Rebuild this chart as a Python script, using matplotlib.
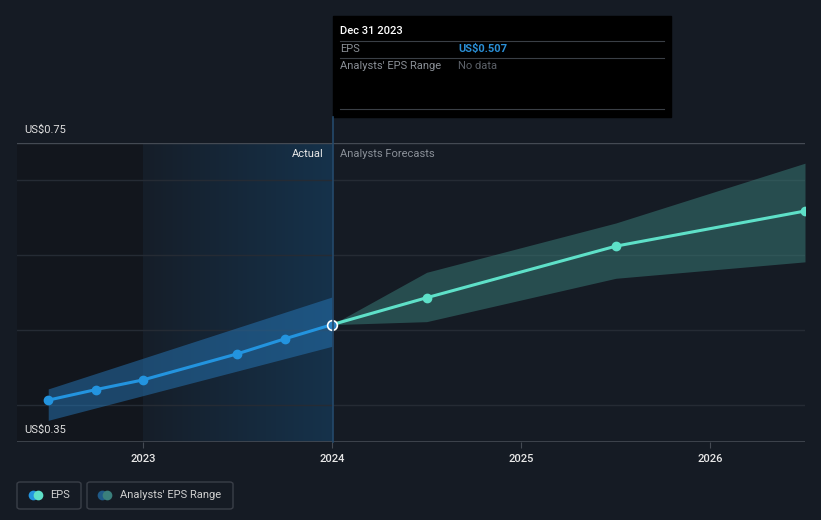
import numpy as np
import matplotlib.pyplot as plt
from matplotlib.colors import LinearSegmentedColormap
from matplotlib.patches import FancyBboxPatch, Rectangle
from matplotlib.lines import Line2D

plt.rcParams['font.family'] = ['Roboto', 'DejaVu Sans']

# EPS history (decimal years) and analyst forecasts
actual_x = [2022.5, 2022.75, 2023.0, 2023.5, 2023.75, 2024.0]
actual_eps = [0.406, 0.420, 0.433, 0.468, 0.488, 0.507]
actual_band_x = [2022.5, 2024.0]
actual_band_lo = [0.379, 0.478]
actual_band_hi = [0.421, 0.544]

fc_x = [2024.0, 2024.5, 2025.5, 2026.5]
fc_eps = [0.507, 0.543, 0.612, 0.659]
fc_lo = [0.507, 0.511, 0.569, 0.591]
fc_hi = [0.507, 0.577, 0.643, 0.723]

years = [2023, 2024, 2025, 2026]
y_labels = ["US$0.35", "US$0.75"]

BG = "#151b24"
BLUE = "#2394df"
TEAL = "#5ee0c8"

W, H = 821, 520
fig = plt.figure(figsize=(W / 100, H / 100), dpi=100, facecolor=BG)
ax = fig.add_axes([17 / W, (H - 442) / H, (805 - 17) / W, (442 - 143) / H])
ax.set_facecolor(BG)
x0, x1 = 2022.335, 2026.5
ax.set_xlim(x0, x1)
ax.set_ylim(0.35, 0.75)

# past region + last-year highlight
ax.add_patch(Rectangle((x0, 0.35), 2023 - x0, 0.4, color="#12161d", zorder=0))
grad = LinearSegmentedColormap.from_list("g", ["#151e29", "#16324b"])
ax.imshow(np.linspace(0, 1, 100).reshape(1, -1), cmap=grad, aspect="auto",
          extent=[2023, 2024, 0.35, 0.75], zorder=0.5)

for v in [0.4, 0.5, 0.6, 0.7]:
    ax.axhline(v, color="#252b34", lw=1, zorder=1)
ax.axhline(0.75, color="#444a53", lw=1, zorder=1)
ax.axhline(0.35, color="#444a53", lw=1.2, zorder=1)

# bands
ax.fill_between(actual_band_x, actual_band_lo, actual_band_hi, color="#2677b8", alpha=0.5, lw=0, zorder=2)
ax.fill_between(fc_x, fc_lo, fc_hi, color="#3a7f7a", alpha=0.5, lw=0, zorder=2)

# lines
ax.plot(actual_x, actual_eps, color=BLUE, lw=2.2, zorder=3)
ax.plot(actual_x[:-1], actual_eps[:-1], "o", color=BLUE, ms=6, zorder=4)
ax.plot(fc_x, fc_eps, color=TEAL, lw=2.2, zorder=3)
ax.plot(fc_x[1:], fc_eps[1:], "o", color=TEAL, ms=6, zorder=4)
ax.plot(actual_x[-1], actual_eps[-1], "o", color="#2a7fc0", mec="white", mew=1.2, ms=7, zorder=5)

for s in ax.spines.values():
    s.set_visible(False)
ax.set_yticks([])
ax.set_xticks(years)
ax.set_xticklabels([str(y) for y in years], color="#e8e8e8", fontsize=8, fontweight="medium")
ax.tick_params(axis="x", length=4, color="#444a53", pad=5)

# hover line
fig.add_artist(Line2D([333 / W, 333 / W], [(H - 442) / H, (H - 117) / H], color="#24496b", lw=1.2))

fig.text(24 / W, (H - 130) / H, y_labels[1], color="#e0e0e0", fontsize=8, va="center")
fig.text(24 / W, (H - 430) / H, y_labels[0], color="#e0e0e0", fontsize=8, va="center")
fig.text(324 / W, (H - 154) / H, "Actual", color="#e8e8e8", fontsize=8, ha="right", va="center")
fig.text(340 / W, (H - 154) / H, "Analysts Forecasts", color="#8a9098", fontsize=8, va="center")

# tooltip
fig.add_artist(Rectangle((333 / W, (H - 117) / H), (671 - 333) / W, (117 - 16) / H, color="black",
                         transform=fig.transFigure))
fig.text(340 / W, (H - 31) / H, "Dec 31 2023", color="white", fontsize=8, va="center", fontweight="medium")
for yy in [41, 58, 109]:
    fig.add_artist(Line2D([340 / W, 664 / W], [(H - yy) / H] * 2, color="#3a3f46", lw=0.8))
fig.text(340 / W, (H - 49) / H, "EPS", color="#8a8f96", fontsize=8, va="center")
fig.text(458 / W, (H - 49) / H, "US$0.507", color="#2a8fd6", fontsize=8, va="center", fontweight="bold")
fig.text(340 / W, (H - 66) / H, "Analysts' EPS Range", color="#8a8f96", fontsize=8, va="center")
fig.text(458 / W, (H - 66) / H, "No data", color="#5c6168", fontsize=8, va="center")

# legend
for bx, bw in [(17, 64), (87, 146)]:
    fig.add_artist(FancyBboxPatch((bx / W, (H - 509) / H), bw / W, 27 / H,
                                  boxstyle="round,pad=0,rounding_size=0.004", fc=BG, ec="#3a3f48",
                                  lw=1, transform=fig.transFigure))
fig.add_artist(Line2D([33 / W], [(H - 495) / H], marker="o", ms=7, color=BLUE, mew=0))
fig.add_artist(Line2D([38 / W], [(H - 495) / H], marker="o", ms=7, color=TEAL, mew=0))
fig.text(50 / W, (H - 495) / H, "EPS", color="#d0d0d0", fontsize=8, va="center")
fig.add_artist(Line2D([102 / W], [(H - 495) / H], marker="o", ms=7, color="#1f5a88", mew=0))
fig.add_artist(Line2D([107 / W], [(H - 495) / H], marker="o", ms=7, color="#3a7f7c", mew=0))
fig.text(120 / W, (H - 495) / H, "Analysts' EPS Range", color="#d0d0d0", fontsize=8, va="center")

fig.savefig("out.png", dpi=100, facecolor=BG)
